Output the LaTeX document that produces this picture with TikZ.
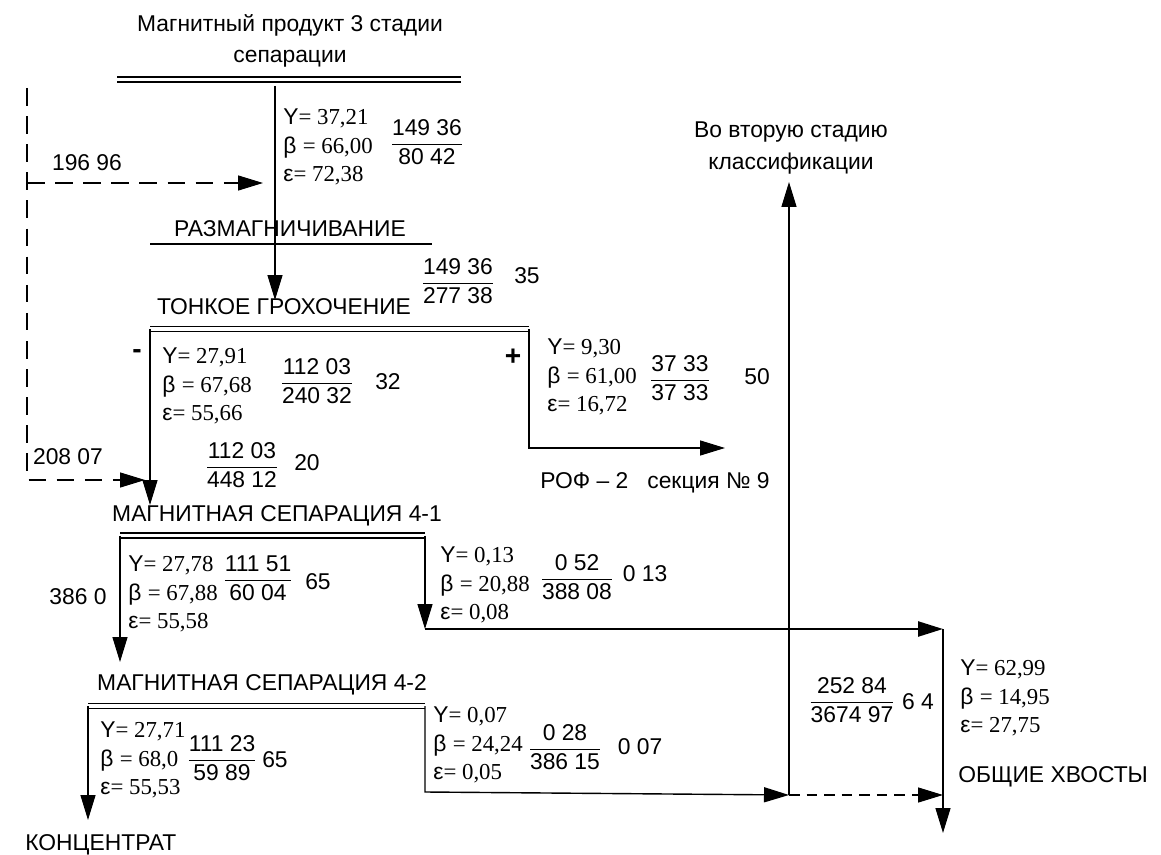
\documentclass[tikz,border=0pt]{standalone}
\usepackage{amsmath}
\usepackage{fontspec}
\setmainfont{Liberation Sans}
\newfontfamily\tms{Liberation Serif}
\usetikzlibrary{arrows.meta}

\newcommand{\ybe}[3]{Y{\tms= #1}\\β {\tms= #2}\\ε{\tms= #3}}
\newcommand{\frc}[2]{$\genfrac{}{}{0.6pt}{0}{\hbox{#1}}{\hbox{#2}}$}

\begin{document}
\begin{tikzpicture}[x=0.02cm, y=-0.02cm]

        % Стили
        \tikzset{
            txt/.style={inner sep=0pt, font=\fontsize{13}{15}\selectfont},
            data/.style={inner sep=0pt, align=left, anchor=west, font=\fontsize{13}{16.2}\selectfont},
            sign/.style={inner sep=0pt, font=\fontsize{16}{18}\selectfont\bfseries},
            flow/.style={-{Triangle[length=5mm, width=3mm]}, line width=0.8pt},
            back/.style={flow, dash pattern=on 10pt off 6pt},
            bar/.style={line width=0.8pt},
            dbl/.style={double, double distance=2pt, line width=0.8pt}
        }
        \useasboundingbox (0,0) rectangle (1161,855);

        % --- ПИТАНИЕ ---
        \node[txt, align=center, font=\fontsize{13}{18}\selectfont] (feed) at (290,41) {Магнитный продукт 3 стадии\\сепарации};
        \draw[dbl] (117,79.5) coordinate (feedL) -- (461,79.5) coordinate (feedR);
        \coordinate (feedO) at (275,86);
        \node[data] (feedD) at (283,147) {\ybe{37,21}{66,00}{72,38}};
        \node[txt] (feedF) at (427,142) {\frc{149 36}{80 42}};

        % --- РАЗМАГНИЧИВАНИЕ ---
        \node[txt] (demag) at (290,229) {РАЗМАГНИЧИВАНИЕ};
        \draw[bar] (150,244) coordinate (demagL) -- (432,244) coordinate (demagR);

        % --- ТОНКОЕ ГРОХОЧЕНИЕ ---
        \node[txt] (scr) at (284,307) {ТОНКОЕ ГРОХОЧЕНИЕ};
        \coordinate (scrIn) at (275,300);
        \node[txt] (scrF) at (458,281) {\frc{149 36}{277 38}};
        \node[txt] (scrN) at (527,276) {35};
        \draw[dbl] (150,329) coordinate (scrL) -- (529,329) coordinate (scrR);
        \node[sign] (minus) at (137,354) {-};
        \node[sign] (plus) at (513,357) {+};

        % подрешетный продукт
        \node[data] (undD) at (162,386) {\ybe{27,91}{67,68}{55,66}};
        \node[txt] (undF) at (317,381) {\frc{112 03}{240 32}};
        \node[txt] (undN) at (388,382) {32};
        \node[txt] (sepF) at (242,465) {\frc{112 03}{448 12}};
        \node[txt] (sepN) at (307,463) {20};

        % надрешетный продукт
        \node[data] (ovrD) at (547,377) {\ybe{9,30}{61,00}{16,72}};
        \node[txt] (ovrF) at (680,378) {\frc{37 33}{37 33}};
        \node[txt] (ovrN) at (757,377) {50};
        \coordinate (ovrC) at (529,448);
        \coordinate (ovrE) at (725,448);
        \node[txt] (rof) at (655,483) {РОФ – 2 \ \ секция № 9};

        % --- ЦИРКУЛЯЦИЯ ---
        \coordinate (recTop) at (27,88);
        \coordinate (recMid) at (27,183);
        \coordinate (recBot) at (27,480);
        \coordinate (recA) at (263,183);
        \coordinate (recB) at (145,480);
        \node[txt] (recN1) at (87,163) {196 96};
        \node[txt] (recN2) at (68,457) {208 07};

        % --- МАГНИТНАЯ СЕПАРАЦИЯ 4-1 ---
        \node[txt] (ms1) at (277,516) {МАГНИТНАЯ СЕПАРАЦИЯ 4-1};
        \coordinate (ms1In) at (150,505);
        \draw[dbl] (120,535.5) coordinate (ms1L) -- (425,535.5) coordinate (ms1R);
        \node[data] (c1D) at (128,594) {\ybe{27,78}{67,88}{55,58}};
        \node[txt] (c1F) at (258,578) {\frc{111 51}{60 04}};
        \node[txt] (c1N) at (318,582) {65};
        \node[txt] (c1W) at (78,597) {386 0};
        \node[data] (t1D) at (440,585) {\ybe{0,13}{20,88}{0,08}};
        \node[txt] (t1F) at (577,577) {\frc{0 52}{388 08}};
        \node[txt] (t1N) at (645,574) {0 13};
        \coordinate (t1C) at (425,629);
        \coordinate (tailTop) at (943,629);

        % --- МАГНИТНАЯ СЕПАРАЦИЯ 4-2 ---
        \node[txt] (ms2) at (262,685) {МАГНИТНАЯ СЕПАРАЦИЯ 4-2};
        \coordinate (ms2In) at (120,662);
        \draw[dbl] (88,706) coordinate (ms2L) -- (425,706) coordinate (ms2R);
        \node[data] (c2D) at (100,760) {\ybe{27,71}{68,0}{55,53}};
        \node[txt] (c2F) at (222,758) {\frc{111 23}{59 89}};
        \node[txt] (c2N) at (275,760) {65};
        \node[data] (t2D) at (433,745) {\ybe{0,07}{24,24}{0,05}};
        \node[txt] (t2F) at (565,747) {\frc{0 28}{386 15}};
        \node[txt] (t2N) at (640,747) {0 07};
        \coordinate (t2C) at (425,792);
        \coordinate (split) at (789,795);
        \coordinate (tailDash) at (943,795);
        \coordinate (concE) at (88,820);
        \node[txt, anchor=west] (conc) at (25,845) {КОНЦЕНТРАТ};

        % --- ВО ВТОРУЮ СТАДИЮ ---
        \node[txt, align=center, font=\fontsize{13}{18}\selectfont] (cls) at (791,148) {Во вторую стадию\\классификации};
        \coordinate (clsIn) at (789,182);

        % --- ОБЩИЕ ХВОСТЫ ---
        \node[txt] (tailF) at (852,700) {\frc{252 84}{3674 97}};
        \node[txt] (tailN) at (918,702) {6 4};
        \node[data] (tailD) at (960,698) {\ybe{62,99}{14,95}{27,75}};
        \node[txt, anchor=west] (tails) at (958,777) {ОБЩИЕ ХВОСТЫ};
        \coordinate (tailE) at (943,833);

        % --- ПОТОКИ ---
        \draw[flow] (feedO) -- (scrIn);
        \draw[flow] (scrL) -- (ms1In);
        \draw[flow] (scrR) -- (ovrC) -- (ovrE);
        \draw[back] (recTop) -- (recBot) -- (recB);
        \draw[back] (recMid) -- (recA);
        \draw[flow] (ms1L) -- (ms2In);
        \draw[flow] (ms1R) -- (t1C);
        \draw[flow, line width=1.4pt] (t1C) -- (tailTop);
        \draw[flow] (ms2L) -- (concE);
        \draw[flow] (ms2R) -- (t2C) -- (split);
        \draw[flow] (split) -- (clsIn);
        \draw[back, dash pattern=on 6pt off 4pt] (split) -- (tailDash);
        \draw[flow] (tailTop) -- (tailE);

    \end{tikzpicture}
\end{document}
